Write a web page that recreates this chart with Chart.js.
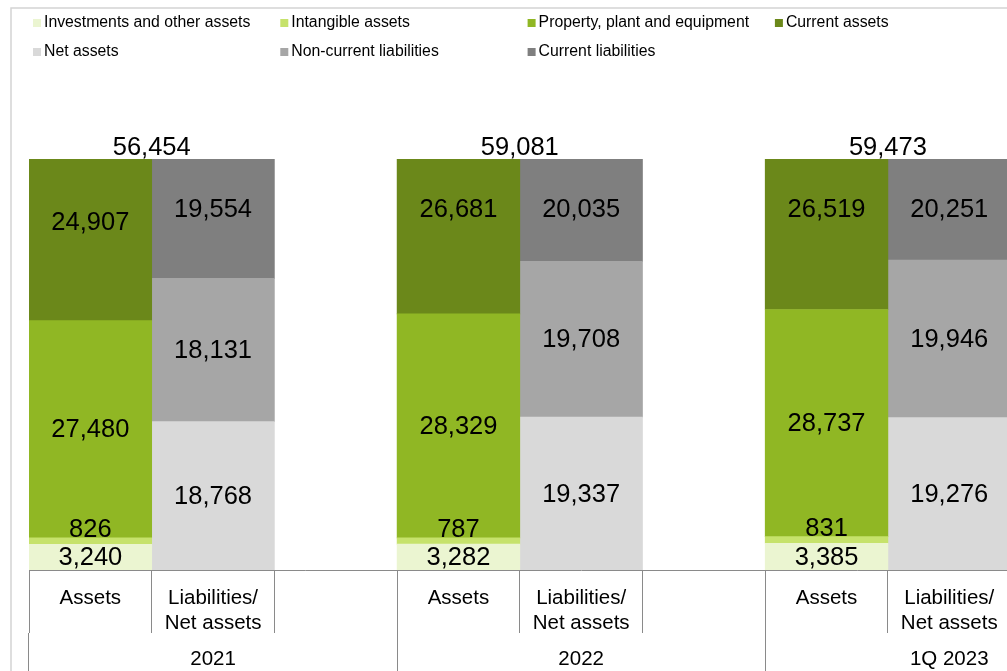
<!DOCTYPE html>
<html>
<head>
<meta charset="utf-8">
<script src="https://cdn.jsdelivr.net/npm/chart.js@4"></script>
<style>
  html, body { margin: 0; padding: 0; overflow: hidden; background: #fff; }
  #wrap { position: relative; width: 1160px; height: 671px; }
</style>
</head>
<body>
<div id="wrap"><canvas id="bsChart" width="1160" height="671"></canvas></div>
<script>
// Balance sheet composition per period
const periods = ['2021', '2022', '1Q 2023'];
const barLabels = ['Assets', ['Liabilities/', 'Net assets']];
const totals = [56454, 59081, 59473];

const investments = [3240, 3282, 3385];
const intangibles = [826, 787, 831];
const ppe = [27480, 28329, 28737];
const currentAssets = [24907, 26681, 26519];
const netAssets = [18768, 19337, 19276];
const nonCurrentLiab = [18131, 19708, 19946];
const currentLiab = [19554, 20035, 20251];

// every period gets an assets slot, a liabilities slot and an empty spacer
const categories = [];
periods.forEach(() => categories.push(barLabels[0], barLabels[1], ''));

function spread(values, slot) {
    const out = new Array(categories.length).fill(null);
    values.forEach((v, i) => { out[i * 3 + slot] = v; });
    return out;
}

const FONT = '"Liberation Sans", Arial, sans-serif';
Chart.defaults.font.family = FONT;

// light outer frame
const frame = {
    id: 'frame',
    beforeDraw(chart) {
        const c = chart.ctx;
        c.save();
        c.strokeStyle = '#d4d4d4';
        c.lineWidth = 1.5;
        c.strokeRect(11, 8, 2000, 2000);
        c.restore();
    }
};

// legend laid out in fixed columns
const legendGrid = {
    id: 'legendGrid',
    afterDraw(chart) {
        const c = chart.ctx;
        c.save();
        c.font = '15.8px ' + FONT;
        c.textBaseline = 'middle';
        c.textAlign = 'left';
        chart.data.datasets.forEach((ds, i) => {
            const row = i < 4 ? 0 : 1;
            const col = i < 4 ? i : i - 4;
            const x = 33 + col * 247.3;
            const y = 23 + row * 29;
            c.fillStyle = ds.backgroundColor;
            c.fillRect(x, y - 4, 8, 8);
            c.fillStyle = '#000';
            c.fillText(ds.label, x + 11, y);
        });
        c.restore();
    }
};

// segment values and totals
const valueLabels = {
    id: 'valueLabels',
    afterDatasetsDraw(chart) {
        const c = chart.ctx;
        const area = chart.chartArea;
        c.save();
        c.fillStyle = '#000';
        c.font = '25.5px ' + FONT;
        c.textAlign = 'center';
        chart.data.datasets.forEach((ds, di) => {
            const meta = chart.getDatasetMeta(di);
            meta.data.forEach((bar, i) => {
                const v = ds.data[i];
                if (v == null) return;
                const text = v.toLocaleString('en-US');
                const top = Math.min(bar.y, bar.base);
                const h = Math.abs(bar.base - bar.y);
                if (h < 14) {
                    c.textBaseline = 'alphabetic';
                    c.fillText(text, bar.x, top - 1);
                } else {
                    // segments running past the top keep their label inside the plot
                    const mid = Math.max((bar.y + bar.base) / 2, area.top + 50);
                    c.textBaseline = 'middle';
                    c.fillText(text, bar.x, mid + 1);
                }
            });
        });
        const assetsMeta = chart.getDatasetMeta(0);
        const liabMeta = chart.getDatasetMeta(4);
        c.textBaseline = 'alphabetic';
        totals.forEach((t, i) => {
            const x = (assetsMeta.data[i * 3].x + liabMeta.data[i * 3 + 1].x) / 2;
            c.fillText(t.toLocaleString('en-US'), x, area.top - 4);
        });
        c.restore();
    }
};

const ctx = document.getElementById('bsChart').getContext('2d');
const bsChart = new Chart(ctx, {
    type: 'bar',
    data: {
        labels: categories,
        datasets: [
            { label: 'Investments and other assets', data: spread(investments, 0), backgroundColor: '#ebf5d1' },
            { label: 'Intangible assets', data: spread(intangibles, 0), backgroundColor: '#c6e26b' },
            { label: 'Property, plant and equipment', data: spread(ppe, 0), backgroundColor: '#90b724' },
            { label: 'Current assets', data: spread(currentAssets, 0), backgroundColor: '#6b881a' },
            { label: 'Net assets', data: spread(netAssets, 1), backgroundColor: '#d9d9d9' },
            { label: 'Non-current liabilities', data: spread(nonCurrentLiab, 1), backgroundColor: '#a6a6a6' },
            { label: 'Current liabilities', data: spread(currentLiab, 1), backgroundColor: '#7f7f7f' }
        ]
    },
    options: {
        responsive: false,
        animation: false,
        layout: { padding: { left: 29, right: 26.7, top: 159, bottom: 0 } },
        datasets: { bar: { barPercentage: 1, categoryPercentage: 1, clip: 0 } },
        plugins: { legend: { display: false }, tooltip: { enabled: false } },
        scales: {
            x: {
                stacked: true,
                weight: 0,
                grid: { drawOnChartArea: false, tickLength: 63, color: '#8a8a8a', offset: true },
                border: { color: '#8a8a8a' },
                ticks: { color: '#000', font: { size: 20.5 }, padding: -47, autoSkip: false, maxRotation: 0 },
                afterFit: s => { s.height = 63; }
            },
            x2: {
                type: 'category',
                labels: periods,
                position: 'bottom',
                weight: 1,
                offset: true,
                grid: { drawOnChartArea: false, tickLength: 38, color: '#8a8a8a', offset: true },
                border: { display: false },
                ticks: { color: '#000', font: { size: 20.5 }, padding: -24, autoSkip: false, maxRotation: 0 },
                afterFit: s => { s.height = 38; }
            },
            y: { stacked: true, display: false, min: 0, max: 52000 }
        }
    },
    plugins: [frame, legendGrid, valueLabels]
});
</script>
</body>
</html>
